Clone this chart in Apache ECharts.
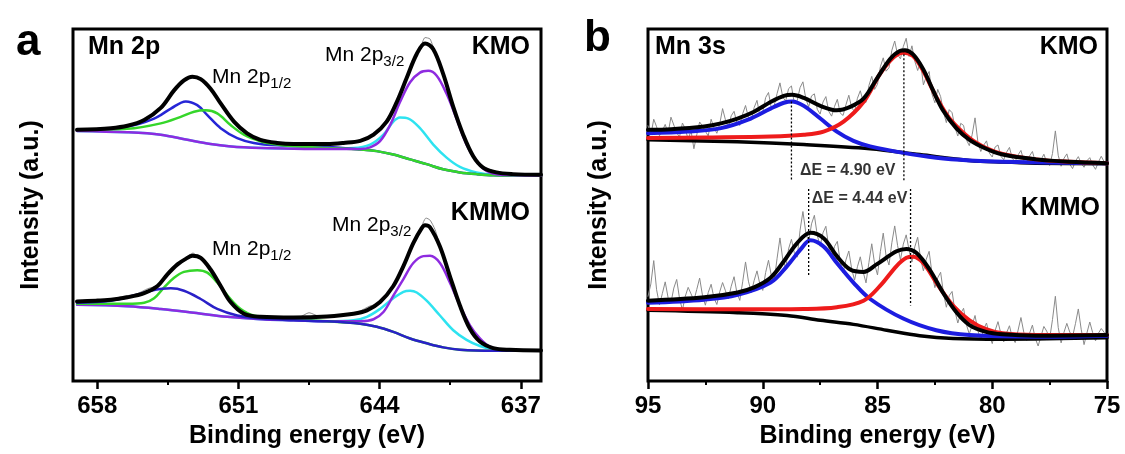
<!DOCTYPE html>
<html>
<head>
<meta charset="utf-8">
<title>Mn 2p / Mn 3s XPS</title>
<script src="https://cdn.jsdelivr.net/npm/echarts@6/dist/echarts.min.js"></script>
<style>
  html, body { margin: 0; padding: 0; background: #fff; }
  #chart { width: 1125px; height: 454px; }
</style>
</head>
<body>
<div id="chart"></div>
<script>
// ---------- Panel a: Mn 2p (binding energy in eV, intensity in a.u.) ----------
const mn2pTicks = [658, 651, 644, 637];
const mn2pMinorTicks = [654.5, 647.5, 640.5];

const kmo2pFit = [[659,68.9],[657.32,69.4],[656.5,70.1],[655.67,71.8],[654.85,75.3],[654.19,80.4],[653.7,83.3],[653.28,84.4],[652.87,83.7],[652.38,80.9],[651.88,76.6],[651.22,71.3],[650.57,67.9],[649.91,66.0],[649.08,65.1],[648.26,64.8],[646.61,64.8],[645.79,65.1],[644.96,65.7],[644.3,67.5],[643.65,71.3],[643.15,77.0],[642.66,84.0],[642.16,91.0],[641.75,94.1],[641.34,92.4],[640.85,85.2],[640.35,75.6],[639.86,67.5],[639.36,61.2],[638.87,57.9],[638.21,56.5],[637.39,56.0],[636,55.8]];
const kmo2pRaw = [[659,69.0],[658,69.1],[657,69.6],[656,70.9],[655,74.6],[654.5,77.9],[654,81.8],[653.5,84.1],[653,84.2],[652.5,81.9],[652,77.5],[651.5,73.5],[651,69.9],[650,66.3],[649,65.0],[648,64.6],[647,64.9],[646,64.9],[645,65.8],[644.5,66.8],[644,69.2],[643.5,73.4],[643,79.3],[642.5,86.3],[642,92.4],[641.75,95.8],[641.5,95.4],[641.25,91.2],[641,87.2],[640.5,78.6],[640,69.9],[639.5,62.6],[639,58.7],[638,56.3],[637,56.0],[636,55.9]];
const kmo2pBlue = [[659,68.9],[656.5,69.9],[655.18,72.2],[654.35,75.1],[653.61,77.2],[653.04,76.1],[652.54,73.2],[651.88,69.4],[651.06,66.5],[650.24,65.1],[649.08,64.4],[646.61,63.9],[644.96,63.2],[644.14,62.7],[643.32,61.7],[642.49,60.3],[641.67,58.9],[640.85,57.4],[640.02,56.5],[639.2,56.0],[638.37,55.7],[636,55.6]];
const kmo2pGreen = [[659,68.9],[656.5,69.2],[654.85,70.8],[653.86,72.7],[653.2,74.2],[652.62,74.6],[652.05,73.7],[651.39,70.3],[650.73,67.5],[649.91,65.6],[649.08,64.6],[648.26,64.1],[646.61,63.6],[644.96,63.2],[644.14,62.7],[643.32,61.7],[642.49,60.3],[641.67,58.9],[640.85,57.4],[640.02,56.5],[639.2,56.0],[638.37,55.7],[636,55.6]];
const kmo2pCyan = [[659,68.6],[656.5,68.2],[654.85,67.5],[653.53,66.0],[652.38,64.8],[650.73,63.8],[648.26,63.4],[645.29,63.6],[644.47,64.6],[643.81,67.5],[643.32,71.3],[642.99,72.5],[642.57,72.2],[642.0,69.4],[641.34,64.6],[640.68,60.8],[640.02,58.1],[639.2,56.5],[638.37,55.8],[636,55.6]];
const kmo2pPurple = [[659,68.6],[656.5,68.2],[654.85,67.5],[653.53,66.0],[652.38,64.8],[650.73,63.8],[648.26,63.4],[645.79,63.3],[644.96,63.3],[644.47,63.8],[643.98,65.6],[643.48,70.3],[642.99,77.0],[642.49,82.8],[642.0,85.6],[641.59,86.1],[641.17,84.7],[640.68,79.4],[640.19,72.2],[639.69,64.6],[639.2,59.8],[638.7,56.9],[638.04,55.8],[636,55.6]];

const kmmo2pFit = [[659,18.9],[657.32,19.4],[656.5,20.1],[655.67,21.3],[655.01,23.4],[654.52,26.8],[654.02,29.7],[653.61,31.3],[653.28,32.2],[652.87,31.6],[652.38,28.2],[651.88,23.4],[651.39,18.7],[650.73,15.3],[649.91,14.4],[648.26,14.2],[646.61,14.5],[645.29,15.3],[644.63,16.3],[643.98,18.7],[643.32,23.4],[642.82,29.2],[642.33,35.9],[641.92,40.2],[641.75,41.1],[641.5,40.5],[641.01,34.9],[640.52,26.3],[640.02,17.7],[639.53,11.0],[639.03,7.2],[638.37,5.3],[637.55,4.8],[636,4.6]];
const kmmo2pRaw = [[659,19.0],[658.5,18.2],[658,19.6],[657.5,19.0],[657,20.0],[656,21.2],[655.5,22.6],[655,23.6],[654.5,27.1],[654,30.0],[653.5,32.1],[653.25,33.0],[653,31.8],[652.5,29.0],[652,24.7],[651.5,20.0],[651,16.8],[650.5,15.1],[650,14.6],[649,14.4],[648,14.3],[647.5,15.6],[647,14.6],[646,14.9],[645.5,14.8],[645,16.0],[644.5,17.5],[644,18.5],[643.5,21.4],[643,27.6],[642.5,33.8],[642,39.6],[641.7,43.2],[641.5,42.6],[641.25,39.8],[641,34.9],[640.5,26.9],[640,17.3],[639.5,11.3],[639,7.4],[638.5,5.6],[638,5.0],[637,4.7],[636,4.6]];
const kmmo2pBlue = [[659,18.5],[657.32,19.1],[656.17,20.6],[655.34,22.0],[654.35,22.7],[653.7,22.0],[652.87,19.6],[652.05,16.7],[651.06,14.8],[649.91,13.9],[648.26,13.4],[646.61,13.1],[644.96,12.4],[644.14,11.5],[643.32,10.0],[642.49,8.1],[641.67,6.7],[640.85,5.5],[640.02,4.8],[638.37,4.5],[636,4.5]];
const kmmo2pGreen = [[659,18.2],[656.5,18.2],[655.67,18.5],[655.18,19.8],[654.68,23.0],[654.19,25.8],[653.7,27.5],[653.04,28.0],[652.54,27.3],[652.05,24.4],[651.39,19.6],[650.89,16.7],[650.24,14.8],[649.08,14.1],[646.61,13.1],[644.96,12.4],[644.14,11.5],[643.32,10.0],[642.49,8.1],[641.67,6.7],[640.85,5.5],[640.02,4.8],[638.37,4.5],[636,4.5]];
const kmmo2pCyan = [[659,17.9],[656.5,17.5],[654.85,16.7],[653.2,15.6],[651.55,14.4],[649.91,13.7],[648.26,13.4],[646.61,13.1],[645.29,13.4],[644.63,14.4],[643.98,16.7],[643.32,19.8],[642.82,21.7],[642.49,22.0],[642.16,21.5],[641.67,19.1],[641.01,14.8],[640.35,10.5],[639.69,7.7],[639.03,5.9],[638.37,5.0],[636,4.5]];
const kmmo2pPurple = [[659,17.9],[656.5,17.5],[654.85,16.7],[653.2,15.6],[651.55,14.4],[649.91,13.7],[648.26,13.4],[646.61,13.1],[644.96,13.1],[644.3,13.7],[643.81,15.8],[643.32,20.6],[642.82,25.4],[642.33,30.1],[641.83,32.1],[641.5,32.2],[641.01,30.1],[640.52,24.4],[640.02,17.7],[639.53,12.0],[639.03,8.1],[638.54,5.7],[637.88,4.8],[636,4.5]];

// ---------- Panel b: Mn 3s ----------
// raw spectra are sampled every 0.125 eV from 95 eV down to 75 eV
const mn3sStart = 95, mn3sStep = 0.125;
const kmo3sRaw = [
  70.1,67.4,72.0,69.8,67.2,68.6,70.5,67.9,72.6,70.3,68.0,66.9,70.9,69.2,66.1,68.7,
  63.4,67.5,71.2,70.0,68.5,67.1,72.0,69.5,67.9,70.6,75.1,71.8,69.6,73.0,74.3,70.9,
  70.2,73.6,76.0,72.5,71.8,75.4,77.5,73.0,74.1,78.3,79.8,75.2,76.0,79.5,82.6,78.4,
  77.3,80.9,81.7,76.6,77.4,81.2,82.9,78.0,75.6,78.8,79.4,74.9,73.5,77.0,78.6,74.3,
  72.9,75.7,77.8,73.8,73.1,76.2,79.0,75.4,74.2,78.1,80.3,77.2,76.9,81.8,84.5,80.7,
  82.2,87.3,89.9,86.0,87.0,92.1,94.8,90.8,89.6,93.2,95.6,90.3,93.4,88.9,86.2,88.7,
  82.0,84.4,85.9,79.3,76.8,80.7,78.6,74.1,71.0,74.8,73.9,69.6,67.1,70.8,70.2,66.0,
  64.3,67.5,72.4,65.3,62.6,64.4,65.7,62.1,61.0,63.9,64.5,61.2,60.2,62.4,63.8,60.5,
  59.7,61.6,62.9,59.9,59.1,61.3,62.6,59.6,58.8,60.2,61.8,59.4,58.5,62.0,68.6,61.5,
  58.3,60.6,61.9,58.9,57.6,59.8,61.1,59.2,58.0,59.9,60.8,58.7,57.4,59.5,61.2,59.6,
  58.8
];
const kmmo3sRaw = [
  20.4,24.0,30.8,22.3,17.9,21.2,24.6,20.0,18.5,22.8,25.3,19.7,16.4,20.4,23.0,21.1,
  19.2,22.4,25.7,20.6,17.8,21.5,23.9,19.9,18.0,21.7,24.4,22.0,19.6,23.3,26.1,21.4,
  19.2,24.6,30.4,24.8,21.5,25.0,27.8,23.9,22.1,27.3,30.9,26.4,25.0,31.5,37.4,31.0,
  28.7,34.2,37.0,33.1,31.8,39.6,45.1,39.0,36.2,41.5,44.0,38.2,35.0,38.9,40.8,34.6,
  31.3,34.9,36.4,30.5,27.2,31.0,33.6,28.4,25.1,29.0,31.9,27.5,24.3,30.2,35.7,29.8,
  26.6,33.4,38.8,32.1,29.5,36.0,40.9,35.2,31.0,35.6,38.3,33.9,30.4,34.8,37.6,31.4,
  27.8,31.2,33.5,27.0,22.9,25.8,27.4,21.3,17.2,20.6,21.8,16.0,12.6,15.4,16.9,12.1,
  9.4,12.0,14.8,10.3,7.7,10.8,12.6,9.0,6.6,10.4,13.0,9.5,7.1,9.8,11.8,8.3,
  6.9,10.5,14.2,9.9,7.5,9.6,12.0,8.1,5.9,8.8,11.6,10.2,8.0,13.6,20.4,11.3,
  6.8,9.9,12.5,10.0,8.6,12.4,16.7,10.8,6.3,9.7,12.9,9.8,7.4,9.6,11.0,9.9,
  8.1
];

const kmo3sFit = [[95,68.9],[93.99,69.1],[92.55,69.9],[91.82,70.8],[91.1,72.2],[90.38,74.2],[89.66,77.0],[89.08,78.8],[88.72,79.1],[88.21,78.2],[87.49,75.9],[86.77,74.6],[86.19,75.6],[85.61,78.0],[85.04,83.7],[84.46,89.5],[84.03,91.9],[83.81,92.1],[83.45,90.9],[83.01,86.6],[82.58,80.4],[82.15,74.6],[81.57,69.4],[80.99,66.0],[80.27,63.4],[79.55,61.7],[78.1,60.3],[76.66,59.6],[75,59.2]];
const kmo3sBlue = [[95,67.9],[93.27,68.4],[91.82,69.4],[90.67,71.8],[89.66,75.1],[89.08,76.8],[88.72,77.2],[88.21,75.9],[87.49,72.2],[86.77,68.4],[86.05,65.7],[85.32,64.1],[83.88,62.2],[82.44,60.8],[80.99,60.0],[79.55,59.6],[75,59.2]];
const kmo3sRed = [[95,66.5],[92.55,66.7],[89.66,67.0],[88.21,67.5],[87.35,68.4],[86.48,71.3],[85.61,77.0],[84.89,85.2],[84.31,90.0],[83.88,91.4],[83.45,90.4],[83.01,86.1],[82.44,78.5],[81.86,72.2],[80.99,66.5],[80.27,63.6],[79.55,61.9],[78.1,60.3],[76.66,59.6],[75,59.2]];
const kmo3sBackground = [[95,66.0],[91.1,65.4],[88.21,64.6],[85.32,63.4],[83.16,61.7],[80.99,60.0],[79.55,59.5],[78.1,59.2],[75,59.0]];

const kmmo3sFit = [[95,19.1],[92.55,20.1],[91.1,21.5],[90.38,23.0],[89.66,25.8],[89.08,30.6],[88.5,35.9],[87.92,38.9],[87.35,37.3],[86.77,32.1],[86.19,28.2],[85.61,27.5],[85.04,29.7],[84.17,33.5],[83.74,34.2],[83.3,33.0],[82.73,28.2],[82.15,21.5],[81.57,15.8],[80.99,12.0],[80.27,10.0],[79.55,9.3],[78.1,8.9],[75,9.1]];
const kmmo3sBlue = [[95,18.5],[92.55,19.4],[91.1,20.8],[89.66,24.4],[88.94,29.2],[88.36,34.0],[87.92,36.7],[87.35,34.9],[86.77,30.1],[86.05,24.4],[85.32,19.6],[83.88,13.9],[82.44,10.5],[80.99,9.1],[78.1,8.6],[75,8.9]];
const kmmo3sRed = [[95,16.7],[91.1,16.6],[88.21,16.7],[86.77,17.2],[85.61,19.1],[84.89,23.4],[84.17,29.2],[83.74,31.6],[83.45,31.9],[83.01,30.1],[82.44,24.4],[81.71,17.7],[80.99,13.4],[80.27,10.8],[79.55,9.6],[78.1,9.1],[75,9.1]];
const kmmo3sBackground = [[95,16.3],[91.1,15.6],[88.94,14.8],[87.49,13.4],[86.05,12.2],[84.6,10.5],[83.16,8.9],[81.71,8.1],[79.55,7.9],[75,8.3]];

// multiplet splitting markers: peak energies, top and bottom of each dotted guide
const kmoSplitE = [88.75, 83.85];
const kmoSplitTop = [77.2, 92.1];
const kmoSplitBottom = [54.1, 54.1];
const kmoSplitLabelY = 56.9;
const kmmoSplitE = [88.0, 83.56];
const kmmoSplitTop = [51.7, 51.7];
const kmmoSplitBottom = [26.3, 17.7];
const kmmoSplitLabelY = 48.9;

// ---------- drawing ----------
const FONT = '"Liberation Sans", Arial, Helvetica, sans-serif';
const C = {
  black: '#000000', gray: '#8a8a8a',
  blue2p: '#2626d6', green: '#35d62a', cyan: '#2ee3f0', purple: '#8e2be0',
  red: '#ee1b1b', blue3s: '#1c1ce0'
};

function energyGrid(values) {
  return values.map((v, i) => [mn3sStart - i * mn3sStep, v]);
}

function curve(data, color, width, xi, yi, extra) {
  return Object.assign({
    type: 'line', data: data, xAxisIndex: xi, yAxisIndex: yi,
    showSymbol: false, symbol: 'none', smooth: 0.35, silent: true,
    lineStyle: { color: color, width: width, cap: 'round', join: 'round' },
    itemStyle: { color: color }
  }, extra || {});
}

function guide(e, top, bottom) {
  return {
    type: 'line', xAxisIndex: 2, yAxisIndex: 1, data: [[e, top], [e, bottom]],
    showSymbol: false, symbol: 'none', silent: true, z: 4,
    lineStyle: { color: '#000', width: 1.3, type: [2, 2] }
  };
}

function splitLabel(eArr, y) {
  const mid = (eArr[0] + eArr[1]) / 2;
  const d = (eArr[0] - eArr[1]).toFixed(2);
  return {
    type: 'scatter', xAxisIndex: 2, yAxisIndex: 1, data: [[mid, y]],
    symbol: 'circle', symbolSize: 1, itemStyle: { color: 'rgba(0,0,0,0)' }, silent: true, z: 5,
    label: {
      show: true, position: 'inside', formatter: 'ΔE = ' + d + ' eV',
      fontFamily: FONT, fontSize: 16, fontWeight: 'bold', color: '#000'
    }
  };
}

const axisName = { fontFamily: FONT, fontSize: 25, fontWeight: 'bold', color: '#000' };
const tickLabel = { fontFamily: FONT, fontSize: 24, fontWeight: 'bold', color: '#000' };

const series = [
  // panel a, KMO
  curve(kmo2pRaw, C.gray, 1, 0, 0, { smooth: 0.2 }),
  curve(kmo2pCyan, C.cyan, 2.5, 0, 0),
  curve(kmo2pBlue, C.blue2p, 2.5, 0, 0),
  curve(kmo2pGreen, C.green, 2.5, 0, 0),
  curve(kmo2pPurple, C.purple, 2.5, 0, 0),
  curve(kmo2pFit, C.black, 4, 0, 0),
  // panel a, KMMO
  curve(kmmo2pRaw, C.gray, 1, 0, 0, { smooth: 0.2 }),
  curve(kmmo2pCyan, C.cyan, 2.5, 0, 0),
  curve(kmmo2pPurple, C.purple, 2.5, 0, 0),
  curve(kmmo2pGreen, C.green, 2.5, 0, 0),
  curve(kmmo2pBlue, '#2a20c8', 2.5, 0, 0),
  curve(kmmo2pFit, C.black, 4, 0, 0),
  // panel b, KMO
  curve(energyGrid(kmo3sRaw), C.gray, 1, 2, 1, { smooth: false }),
  curve(kmo3sBackground, C.black, 3.5, 2, 1),
  curve(kmo3sBlue, C.blue3s, 4, 2, 1),
  curve(kmo3sRed, C.red, 4, 2, 1),
  curve(kmo3sFit, C.black, 4, 2, 1),
  // panel b, KMMO
  curve(energyGrid(kmmo3sRaw), C.gray, 1, 2, 1, { smooth: false }),
  curve(kmmo3sBackground, C.black, 3.5, 2, 1),
  curve(kmmo3sBlue, C.blue3s, 4, 2, 1),
  curve(kmmo3sRed, C.red, 4, 2, 1),
  curve(kmmo3sFit, C.black, 4, 2, 1),
  // splitting guides and labels
  guide(kmoSplitE[0], kmoSplitTop[0], kmoSplitBottom[0]),
  guide(kmoSplitE[1], kmoSplitTop[1], kmoSplitBottom[1]),
  guide(kmmoSplitE[0], kmmoSplitTop[0], kmmoSplitBottom[0]),
  guide(kmmoSplitE[1], kmmoSplitTop[1], kmmoSplitBottom[1]),
  splitLabel(kmoSplitE, kmoSplitLabelY),
  splitLabel(kmmoSplitE, kmmoSplitLabelY)
];

function txt(x, y, text, font, align) {
  return {
    type: 'text', x: x, y: y, z: 100, silent: true,
    style: {
      text: text, font: font, fill: '#000',
      align: align || 'left', verticalAlign: 'middle',
      textAlign: align || 'left', textVerticalAlign: 'middle'
    }
  };
}

function subLabel(x, y, main, sub) {
  return {
    type: 'text', x: x, y: y, z: 100, silent: true,
    style: {
      text: '{m|' + main + '}{s|' + sub + '}', fill: '#000',
      align: 'left', verticalAlign: 'middle', textAlign: 'left', textVerticalAlign: 'middle',
      rich: {
        m: { fontFamily: FONT, fontSize: 21, fill: '#000' },
        s: { fontFamily: FONT, fontSize: 15, fill: '#000', padding: [14, 0, 0, 0] }
      }
    }
  };
}

const boldBig = 'bold 44px ' + FONT;
const boldLbl = 'bold 25px ' + FONT;

const yRange = { min: -4.3, max: 98.3 };

const option = {
  animation: false,
  backgroundColor: '#fff',
  grid: [
    { left: 73, top: 29, width: 468, height: 358, show: true, borderColor: '#000', borderWidth: 3, containLabel: false },
    { left: 648, top: 29, width: 459, height: 358, show: true, borderColor: '#000', borderWidth: 3, containLabel: false }
  ],
  xAxis: [
    {
      gridIndex: 0, type: 'value', min: 636, max: 659.2, inverse: true, position: 'bottom',
      axisLine: { show: false, onZero: false }, splitLine: { show: false },
      axisTick: { show: true, length: 8, customValues: mn2pTicks, lineStyle: { color: '#000', width: 2.5 } },
      axisLabel: Object.assign({ customValues: mn2pTicks, margin: 13, showMinLabel: true, showMaxLabel: true }, tickLabel),
      name: 'Binding energy (eV)', nameLocation: 'middle', nameGap: 43, nameTextStyle: axisName
    },
    {
      gridIndex: 0, type: 'value', min: 636, max: 659.2, inverse: true, position: 'bottom',
      axisLine: { show: false, onZero: false }, splitLine: { show: false },
      axisTick: { show: true, length: 4, customValues: mn2pMinorTicks, lineStyle: { color: '#000', width: 2 } },
      axisLabel: { show: false }
    },
    {
      gridIndex: 1, type: 'value', min: 75, max: 95, interval: 5, inverse: true, position: 'bottom',
      axisLine: { show: false, onZero: false }, splitLine: { show: false },
      axisTick: { show: true, length: 8, lineStyle: { color: '#000', width: 2.5 } },
      minorTick: { show: true, splitNumber: 2, length: 4, lineStyle: { color: '#000', width: 2 } },
      minorSplitLine: { show: false },
      axisLabel: Object.assign({ margin: 13, showMinLabel: true, showMaxLabel: true }, tickLabel),
      name: 'Binding energy (eV)', nameLocation: 'middle', nameGap: 43, nameTextStyle: axisName
    }
  ],
  yAxis: [
    {
      gridIndex: 0, type: 'value', min: yRange.min, max: yRange.max,
      axisLine: { show: false, onZero: false }, axisTick: { show: false }, axisLabel: { show: false }, splitLine: { show: false },
      name: 'Intensity (a.u.)', nameLocation: 'middle', nameGap: 29, nameTextStyle: axisName
    },
    {
      gridIndex: 1, type: 'value', min: yRange.min, max: yRange.max,
      axisLine: { show: false, onZero: false }, axisTick: { show: false }, axisLabel: { show: false }, splitLine: { show: false },
      name: 'Intensity (a.u.)', nameLocation: 'middle', nameGap: 36, nameTextStyle: axisName
    }
  ],
  graphic: {
    elements: [
      txt(16, 43, 'a', boldBig),
      txt(584, 39, 'b', boldBig),
      txt(88, 47, 'Mn 2p', boldLbl),
      txt(530, 47, 'KMO', boldLbl, 'right'),
      txt(530, 213, 'KMMO', boldLbl, 'right'),
      subLabel(212, 77, 'Mn 2p', '1/2'),
      subLabel(325, 55, 'Mn 2p', '3/2'),
      subLabel(212, 249, 'Mn 2p', '1/2'),
      subLabel(332, 225, 'Mn 2p', '3/2'),
      txt(655, 47, 'Mn 3s', boldLbl),
      txt(1098, 47, 'KMO', boldLbl, 'right'),
      txt(1100, 208, 'KMMO', boldLbl, 'right')
    ]
  },
  series: series
};

const chart = echarts.init(document.getElementById('chart'), null, { renderer: 'canvas' });
chart.setOption(option);
</script>
</body>
</html>
